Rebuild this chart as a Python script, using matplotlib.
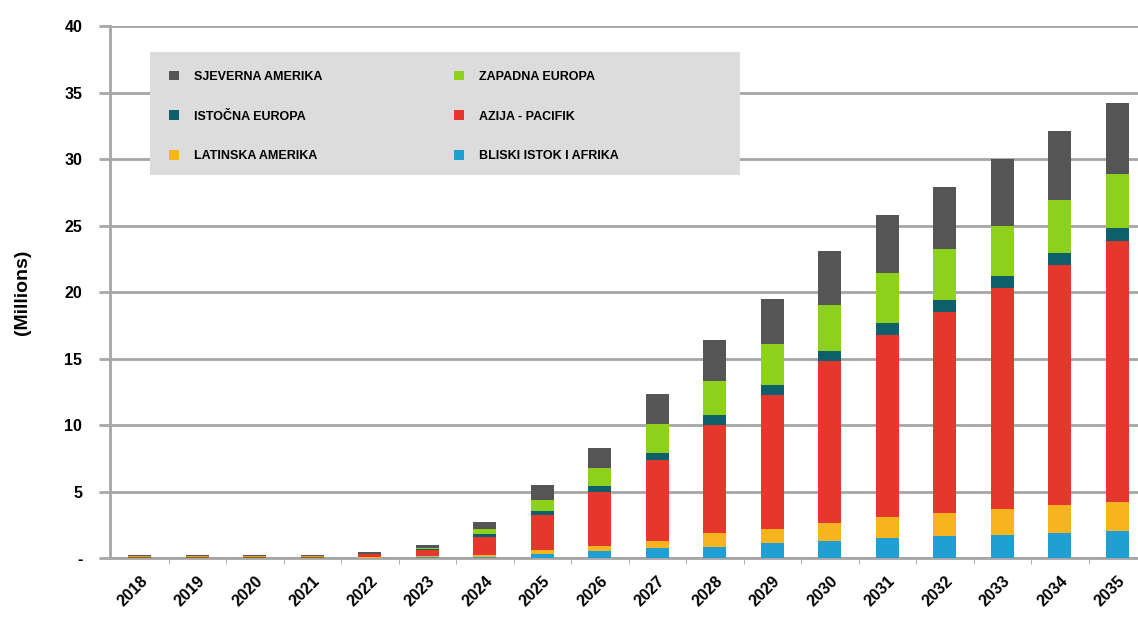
import matplotlib.pyplot as plt
from matplotlib.patches import Rectangle
import numpy as np

years = ['2018', '2019', '2020', '2021', '2022', '2023', '2024', '2025', '2026',
         '2027', '2028', '2029', '2030', '2031', '2032', '2033', '2034', '2035']

# stacked from the bottom up (millions)
bliski = [0.01, 0.01, 0.01, 0.01, 0.02, 0.05, 0.08, 0.3, 0.55, 0.73, 0.85, 1.1, 1.3, 1.48, 1.65, 1.73, 1.9, 2.05]
latinska = [0.02, 0.02, 0.02, 0.02, 0.05, 0.1, 0.12, 0.3, 0.35, 0.57, 1.0, 1.1, 1.35, 1.57, 1.7, 1.92, 2.1, 2.2]
azija = [0.07, 0.07, 0.07, 0.07, 0.2, 0.45, 1.4, 2.6, 4.1, 6.1, 8.15, 10.05, 12.15, 13.75, 15.15, 16.65, 18.0, 19.55]
istocna = [0.01, 0.01, 0.01, 0.01, 0.02, 0.05, 0.2, 0.3, 0.4, 0.5, 0.75, 0.75, 0.8, 0.9, 0.9, 0.9, 0.9, 1.0]
zapadna = [0.01, 0.01, 0.01, 0.01, 0.04, 0.12, 0.4, 0.9, 1.4, 2.2, 2.55, 3.1, 3.4, 3.7, 3.8, 3.8, 4.0, 4.1]
sjeverna = [0.08, 0.08, 0.08, 0.08, 0.12, 0.23, 0.5, 1.1, 1.5, 2.2, 3.1, 3.4, 4.1, 4.4, 4.7, 5.0, 5.2, 5.3]

series = [
    ('BLISKI ISTOK I AFRIKA', bliski, '#1f9fd3'),
    ('LATINSKA AMERIKA', latinska, '#f7b41e'),
    ('AZIJA - PACIFIK', azija, '#e5372b'),
    ('ISTOČNA EUROPA', istocna, '#0c5f6b'),
    ('ZAPADNA EUROPA', zapadna, '#8ed11c'),
    ('SJEVERNA AMERIKA', sjeverna, '#555555'),
]

plt.rcParams['font.family'] = ['Liberation Sans', 'DejaVu Sans']

fig = plt.figure(figsize=(11.38, 6.19), dpi=100)
ax = fig.add_axes([0.0967, 0.0985, 0.9033, 0.8595])

x = np.arange(len(years))
bottom = np.zeros(len(years))
bars = {}
for name, vals, col in series:
    bars[name] = ax.bar(x, vals, 0.4, bottom=bottom, color=col, label=name, zorder=3)
    bottom += np.array(vals)

ax.set_ylim(0, 40)
ax.set_xlim(-0.52, 17.36)
ax.set_yticks(np.arange(0, 41, 5))
ax.set_yticklabels(['-'] + [str(v) for v in range(5, 41, 5)])
ax.yaxis.grid(True, color='#a6a6a6', lw=2, zorder=0)
ax.tick_params(axis='y', length=8, width=2, color='#a6a6a6', labelsize=11.5, pad=12)
for lab in ax.get_yticklabels():
    lab.set_fontweight('bold')

ax.set_xticks(x)
ax.set_xticklabels(years, rotation=45, fontsize=11.5, fontweight='bold',
                   ha='right', rotation_mode='anchor')
ax.tick_params(axis='x', length=0, pad=11)
ax.set_xticks(x[:-1] + 0.5, minor=True)
ax.tick_params(axis='x', which='minor', length=4, color='#a6a6a6')

for s in ['top', 'right']:
    ax.spines[s].set_visible(False)
for s in ['left', 'bottom']:
    ax.spines[s].set_color('#a6a6a6')
    ax.spines[s].set_linewidth(2)

ax.set_ylabel('(Millions)', fontsize=14, fontweight='bold', labelpad=24)

# legend background box
ax.add_patch(Rectangle((0.039, 0.72), 0.574, 0.231, transform=ax.transAxes,
                       facecolor='#dcdcdc', edgecolor='none', zorder=4))

order = ['SJEVERNA AMERIKA', 'ISTOČNA EUROPA', 'LATINSKA AMERIKA',
         'ZAPADNA EUROPA', 'AZIJA - PACIFIK', 'BLISKI ISTOK I AFRIKA']
leg = ax.legend([bars[n] for n in order], order, ncol=2, loc='upper left',
                bbox_to_anchor=(0.039, 0.951), frameon=False,
                prop={'weight': 'bold', 'size': 9},
                handlelength=0.8, handleheight=0.8, labelspacing=2.2,
                borderpad=1.0, handletextpad=1.2, columnspacing=10.5)
leg.set_zorder(5)

fig.savefig('out.png', dpi=100)
